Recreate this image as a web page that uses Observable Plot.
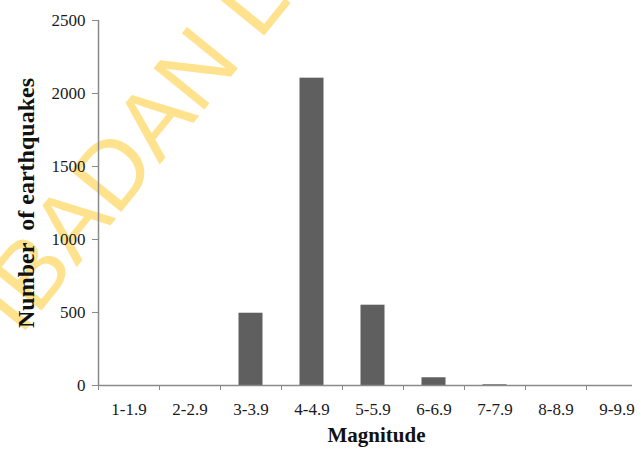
<!DOCTYPE html>
<html><head><meta charset="utf-8">
<script src="https://cdn.jsdelivr.net/npm/d3@7"></script>
<script src="https://cdn.jsdelivr.net/npm/@observablehq/plot@0.6"></script>
<style>
body{margin:0;background:#fff}
#wrap{position:relative;width:644px;height:450px;overflow:hidden}
#wm,#chart{position:absolute;left:0;top:0}
</style>
</head><body>
<div id="wrap"><svg id="wm" width="644" height="450"></svg><div id="chart"></div></div>
<script>
const categories = ["1-1.9","2-2.9","3-3.9","4-4.9","5-5.9","6-6.9","7-7.9","8-8.9","9-9.9"];
const counts = [0, 0, 495, 2105, 550, 53, 5, 0, 0];
const yTicks = [0, 500, 1000, 1500, 2000, 2500];
const xTitle = "Magnitude";
const yTitle = "Number\u00a0 of earthquakes";
const watermark = "IBADAN LIBRARY";

const data = categories.map((c, i) => ({c, i, v: counts[i]}));
const axisColor = "#8a8a8a";
const textColor = "#1a1a1a";

const chart = Plot.plot({
  width: 644, height: 450,
  marginLeft: 98, marginTop: 20, marginBottom: 65, marginRight: 12,
  style: {background: "transparent", fontFamily: "'Liberation Serif', serif", fontSize: "17px", color: textColor, overflow: "visible"},
  x: {type: "linear", domain: [0, categories.length], range: [98, 98 + 61 * categories.length]},
  y: {domain: [0, 2500]},
  marks: [
    Plot.rectY(data, {x1: "i", x2: d => d.i + 1, y: "v", insetLeft: 18.5, insetRight: 18.5, fill: "#5f5f5f"}),
    Plot.ruleX([0], {stroke: axisColor, strokeWidth: 1.5}),
    Plot.ruleY([0], {stroke: axisColor, strokeWidth: 1.5}),
    Plot.axisY({ticks: yTicks, tickSize: 6, tickPadding: 7, stroke: axisColor, fill: textColor, label: null, fontSize: 17, tickFormat: d => String(d)}),
    Plot.axisX({ticks: d3.range(0, categories.length), tickSize: 5, stroke: axisColor, tickFormat: () => "", label: null}),
    Plot.axisX({ticks: categories.map((c, i) => i + 0.5), tickSize: 0, tickPadding: 17, fill: textColor, fontSize: 17, label: null, tickFormat: d => categories[Math.floor(d)]}),
    Plot.text([yTitle], {text: d => d, frameAnchor: "left", textAnchor: "middle", rotate: -90, dx: -72, fontSize: 24, fontWeight: "bold", fill: "#111"}),
    Plot.text([xTitle], {text: d => d, frameAnchor: "bottom", dx: 11, dy: 56, lineAnchor: "bottom", fontSize: 21, fontWeight: "bold", fill: "#111"})
  ]
});
document.getElementById("chart").appendChild(chart);

d3.select("#wm").append("text")
  .attr("transform", "translate(20,337) rotate(-51)")
  .attr("font-family", "'Liberation Sans', sans-serif")
  .attr("font-size", 95)
  .attr("fill", "#FFE28E")
  .text(watermark);
</script>
</body></html>
